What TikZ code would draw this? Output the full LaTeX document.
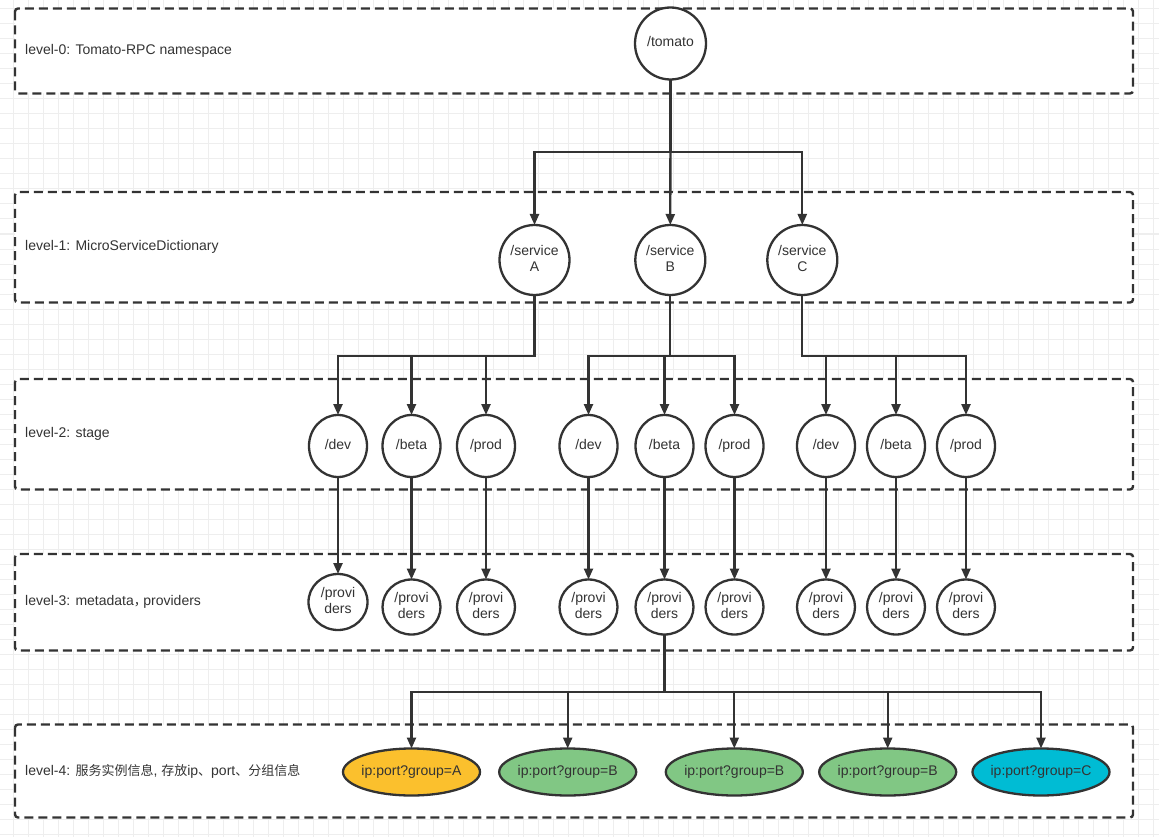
\documentclass[tikz,border=0pt]{standalone}
\usepackage{fontspec}
\setmainfont{Liberation Sans}
\newfontfamily\cjk{Noto Sans CJK SC}
\usetikzlibrary{arrows.meta,shapes.geometric}
\definecolor{ln}{HTML}{333333}
\definecolor{gridc}{HTML}{EEEEEE}
\definecolor{orangeA}{HTML}{FBC02D}
\definecolor{greenB}{HTML}{81C784}
\definecolor{cyanC}{HTML}{00BCD4}
\newcommand{\ctr}[1]{\makebox[0pt]{\begin{tabular}{@{}c@{}}#1\end{tabular}}}
\newcommand{\zh}[1]{{\cjk\fontsize{13}{16}\selectfont #1}}
\begin{document}
\begin{tikzpicture}[x=1pt,y=-1pt,
  font=\fontsize{14}{16.5}\selectfont, text=ln,
  levelbox/.style={draw=ln, fill=white, line width=2.4pt, dash pattern=on 9pt off 5pt, rounded corners=3pt},
  lvl/.style={anchor=west, inner sep=0pt},
  circ/.style={ellipse, draw=ln, fill=white, line width=2.3pt, inner sep=0pt, outer sep=0pt},
  inst/.style={ellipse, draw=ln, line width=2.3pt, inner sep=0pt, outer sep=0pt, minimum width=137pt, minimum height=47pt},
  arr/.style={draw=ln, line width=2.3pt, -{Triangle[length=11pt,width=9pt]}},
]
\useasboundingbox (0,0) rectangle (1159,837);
\fill[white] (0,0) rectangle (1159,837);
% background grid
\foreach \i in {0,...,76} \draw[gridc, line width=1pt] ({13.3+15*\i},0) -- ({13.3+15*\i},837);
\foreach \j in {0,...,55} \draw[gridc, line width=1pt] (0,{9+15*\j}) -- (1159,{9+15*\j});

% level boxes
\draw[levelbox] (15,8.5) rectangle (1133,93.5);
\draw[levelbox] (15,192) rectangle (1133,302.5);
\draw[levelbox] (15,379) rectangle (1133,489.5);
\draw[levelbox] (15,554) rectangle (1133,650.5);
\draw[levelbox] (15,724.5) rectangle (1133,817.5);

% level labels
\node[lvl] (l0) at (25,51) {level-0: Tomato-RPC namespace};
\node[lvl] (l1) at (25,247) {level-1: MicroServiceDictionary};
\node[lvl] (l2) at (25,434) {level-2: stage};
\node[lvl] (l3) at (25,602) {level-3: metadata\zh{，}\hspace{-0.25em}providers};
\node[lvl] (l4) at (25,771) {level-4: \zh{服务实例信息}, \zh{存放}ip\zh{、}port\zh{、分组信息}};

% level 0
\node[circ, minimum width=71pt, minimum height=72pt] (tomato) at (670.5,43.5) {\ctr{/tomato}};

% level 1
\node[circ, minimum width=70pt, minimum height=70pt] (svcA) at (534.5,260) {\ctr{/service\\A}};
\node[circ, minimum width=70pt, minimum height=70pt] (svcB) at (670.3,260) {\ctr{/service\\B}};
\node[circ, minimum width=70pt, minimum height=70pt] (svcC) at (802.3,260) {\ctr{/service\\C}};

% level 2
\tikzset{stage/.style={circ, minimum width=58pt, minimum height=62pt}}
\node[stage] (devA)  at (338,446)   {\ctr{/dev}};
\node[stage] (betaA) at (411.5,446) {\ctr{/beta}};
\node[stage] (prodA) at (486,446)   {\ctr{/prod}};
\node[stage] (devB)  at (588.5,446) {\ctr{/dev}};
\node[stage] (betaB) at (664.5,446) {\ctr{/beta}};
\node[stage] (prodB) at (734.5,446) {\ctr{/prod}};
\node[stage] (devC)  at (826,446)   {\ctr{/dev}};
\node[stage] (betaC) at (896,446)   {\ctr{/beta}};
\node[stage] (prodC) at (966,446)   {\ctr{/prod}};

% level 3
\tikzset{prov/.style={circ, minimum width=58pt, minimum height=55pt}}
\node[circ, minimum width=59pt, minimum height=56pt] (pdevA) at (338,602) {\ctr{/provi\\ders}};
\node[prov] (pbetaA) at (411.5,607) {\ctr{/provi\\ders}};
\node[prov] (pprodA) at (486,607)   {\ctr{/provi\\ders}};
\node[prov] (pdevB)  at (588.5,607) {\ctr{/provi\\ders}};
\node[prov] (pbetaB) at (664.5,607) {\ctr{/provi\\ders}};
\node[prov] (pprodB) at (734.5,607) {\ctr{/provi\\ders}};
\node[prov] (pdevC)  at (826,607)   {\ctr{/provi\\ders}};
\node[prov] (pbetaC) at (896,607)   {\ctr{/provi\\ders}};
\node[prov] (pprodC) at (966,607)   {\ctr{/provi\\ders}};

% level 4
\node[inst, fill=orangeA] (i1) at (411.5,772) {\ctr{ip:port?group=A}};
\node[inst, fill=greenB]  (i2) at (567.7,772) {\ctr{ip:port?group=B}};
\node[inst, fill=greenB]  (i3) at (734.3,772) {\ctr{ip:port?group=B}};
\node[inst, fill=greenB]  (i4) at (887.7,772) {\ctr{ip:port?group=B}};
\node[inst, fill=cyanC]   (i5) at (1041,772)  {\ctr{ip:port?group=C}};

% bus coordinates
\coordinate (bus0) at (0,152.3);
\coordinate (bus1) at (0,356);
\coordinate (bus3) at (0,691.7);

% connectors level 0 -> 1
\draw[arr] (tomato.south) -- (tomato.south |- bus0) -| (svcA.north);
\draw[arr] (tomato.south) -- (svcB.north);
\draw[arr] (tomato.south) -- (tomato.south |- bus0) -| (svcC.north);

% connectors level 1 -> 2
\foreach \s/\t in {A/devA,A/betaA,A/prodA,B/devB,B/betaB,B/prodB,C/devC,C/betaC,C/prodC}
  \draw[arr] (svc\s.south) -- (svc\s.south |- bus1) -| (\t.north);

% connectors level 2 -> 3
\foreach \t in {devA,betaA,prodA,devB,betaB,prodB,devC,betaC,prodC}
  \draw[arr] (\t.south) -- (p\t.north);

% connectors level 3 -> 4
\foreach \t in {i1,i2,i3,i4,i5}
  \draw[arr] (pbetaB.south) -- (pbetaB.south |- bus3) -| (\t.north);
\end{tikzpicture}
\end{document}
